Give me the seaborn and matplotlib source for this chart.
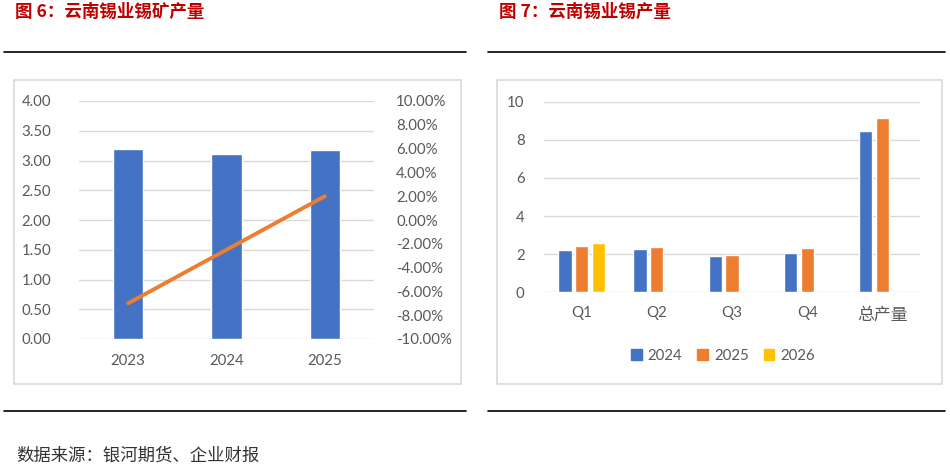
import numpy as np
import pandas as pd
import matplotlib
matplotlib.use("Agg")
import matplotlib.pyplot as plt
from matplotlib.patches import Rectangle, Patch
from matplotlib.lines import Line2D
from matplotlib.ticker import FuncFormatter, MultipleLocator
import seaborn as sns

# ---------------- data ----------------
years_left = ["2023", "2024", "2025"]
ore_output = [3.19, 3.11, 3.17]
ore_growth = [-0.070, -0.025, 0.020]

quarters = ["Q1", "Q2", "Q3", "Q4", "总产量"]
tin_2024 = [2.23, 2.26, 1.90, 2.06, 8.47]
tin_2025 = [2.41, 2.37, 1.97, 2.34, 9.12]
tin_2026 = [2.58, np.nan, np.nan, np.nan, np.nan]
series_years = ["2024", "2025", "2026"]

BLUE = "#4472C4"
ORANGE = "#ED7D31"
GOLD = "#FFC000"
GRID = "#D9D9D9"
TICK = "#595959"
RED = "#C00000"
FS = 10.8

sns.set_theme(style="white")
plt.rcParams["font.family"] = ["Lato", "Noto Sans CJK SC", "DejaVu Sans"]

W, H = 950, 470
fig = plt.figure(figsize=(W / 100, H / 100), dpi=100)


def box(x0, y0, x1, y1):
    return [x0 / W, 1 - y1 / H, (x1 - x0) / W, (y1 - y0) / H]


# frames around charts
for (x0, y0, x1, y1) in [(14, 80, 461, 384), (497, 80, 942, 384)]:
    fig.patches.append(Rectangle((x0 / W, 1 - y1 / H), (x1 - x0) / W, (y1 - y0) / H,
                                 transform=fig.transFigure, fill=False,
                                 edgecolor=GRID, lw=1.2))

# header/footer rules
for (x0, x1) in [(4, 466), (488, 945)]:
    for y in [52, 411]:
        fig.add_artist(Line2D([x0 / W, x1 / W], [1 - y / H, 1 - y / H],
                              transform=fig.transFigure, color="black", lw=1.2))

# titles
title_kw = dict(color=RED, fontsize=12.6, fontweight="bold",
                family=["Noto Sans CJK SC", "DejaVu Sans"], va="center", ha="left")
fig.text(15 / W, 1 - 12 / H, "图 6：云南锡业锡矿产量", **title_kw)
fig.text(499 / W, 1 - 12 / H, "图 7：云南锡业锡产量", **title_kw)
fig.text(16 / W, 1 - 456 / H, "数据来源：银河期货、企业财报", color="#333333",
         fontsize=12.5, family=["Noto Sans CJK SC", "DejaVu Sans"], va="center", ha="left")

# ---------------- left chart ----------------
axL = fig.add_axes(box(79, 101, 374, 339))
dfL = pd.DataFrame({"year": years_left, "output": ore_output})
sns.barplot(data=dfL, x="year", y="output", color=BLUE, width=0.31,
            errorbar=None, ax=axL, saturation=1)
axL.set_ylim(0, 4)
axL.set_xlim(-0.5, 2.5)
axL.yaxis.set_major_locator(MultipleLocator(0.5))
axL.yaxis.set_major_formatter(FuncFormatter(lambda v, p: f"{v:.2f}"))
axL.grid(axis="y", color=GRID, lw=1)
axL.set_axisbelow(True)
axL.set_xlabel("")
axL.set_ylabel("")
axL.tick_params(axis="y", length=0, pad=20, labelsize=FS, labelcolor=TICK)
axL.tick_params(axis="x", length=0, pad=11, labelsize=FS, labelcolor=TICK)
for s in axL.spines.values():
    s.set_visible(False)

axR = axL.twinx()
sns.lineplot(x=np.arange(len(years_left)), y=ore_growth, color=ORANGE, lw=2.8,
             ax=axR, solid_capstyle="round")
axR.set_ylim(-0.10, 0.10)
axR.yaxis.set_major_locator(MultipleLocator(0.02))


def pct(v, p):
    v = round(v * 100, 2)
    if abs(v) < 1e-9:
        v = 0.0
    return f"{v:.2f}%"


axR.yaxis.set_major_formatter(FuncFormatter(pct))
axR.tick_params(axis="y", length=0, pad=16, labelsize=FS, labelcolor=TICK)
axR.grid(False)
for s in axR.spines.values():
    s.set_visible(False)
axL.set_xlim(-0.5, 2.5)

# ---------------- right chart ----------------
ax2 = fig.add_axes(box(544, 101.7, 920, 292.3))
dfR = pd.DataFrame({
    "quarter": quarters * 3,
    "year": [series_years[0]] * 5 + [series_years[1]] * 5 + [series_years[2]] * 5,
    "value": tin_2024 + tin_2025 + tin_2026,
})
palette = {"2024": BLUE, "2025": ORANGE, "2026": GOLD}
sns.barplot(data=dfR, x="quarter", y="value", hue="year", hue_order=series_years,
            order=quarters, palette=palette, width=0.667, gap=0.2,
            errorbar=None, ax=ax2, saturation=1, legend=False)
ax2.set_ylim(0, 10)
ax2.set_xlim(-0.5, 4.5)
ax2.yaxis.set_major_locator(MultipleLocator(2))
ax2.grid(axis="y", color=GRID, lw=1)
ax2.set_axisbelow(True)
ax2.set_xlabel("")
ax2.set_ylabel("")
ax2.tick_params(axis="y", length=0, pad=14, labelsize=FS, labelcolor=TICK)
ax2.tick_params(axis="x", length=0, pad=10, labelsize=FS, labelcolor=TICK)
for lab in ax2.get_xticklabels():
    if lab.get_text() == "总产量":
        lab.set_fontsize(12.2)
        lab.set_family(["Noto Sans CJK SC", "DejaVu Sans"])
for s in ax2.spines.values():
    s.set_visible(False)

handles = [Patch(color=palette[y]) for y in series_years]
fig.legend(handles, series_years, loc="center", bbox_to_anchor=(723 / W, 1 - 355.7 / H),
           ncol=3, frameon=False, fontsize=FS, labelcolor=TICK,
           handlelength=0.7, handleheight=0.7, handletextpad=0.4, columnspacing=1.0)

fig.savefig("out.png", dpi=100)
